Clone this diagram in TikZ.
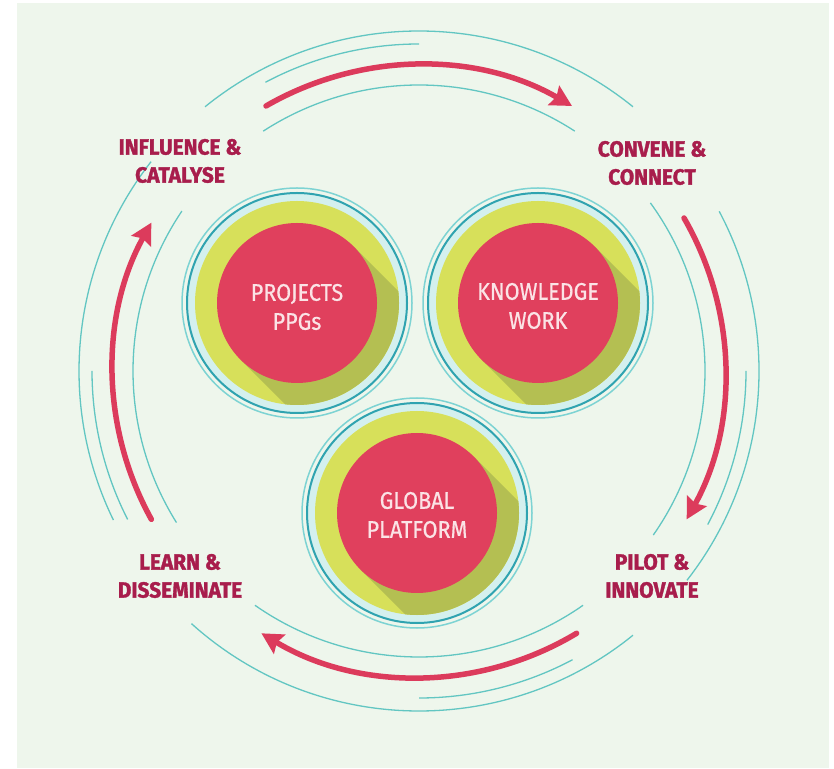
\documentclass[tikz,border=0pt]{standalone}
\usepackage{fontspec}
\setmainfont{Fira Sans}
\newfontfamily\labfont[FakeStretch=0.95, FakeBold=1.5]{Fira Sans}
\newfontfamily\circfont[FakeStretch=0.9, FakeBold=0.6]{Fira Sans}
\usetikzlibrary{arrows.meta}
\definecolor{bgc}{HTML}{EEF6EC}
\definecolor{ringlight}{HTML}{7DD3D3}
\definecolor{ringteal}{HTML}{2FA3B0}
\definecolor{bandc}{HTML}{D4F0EE}
\definecolor{yel}{HTML}{D7E05A}
\definecolor{shad}{HTML}{B4BF52}
\definecolor{reddisk}{HTML}{E0405D}
\definecolor{circtxt}{HTML}{FBE3E6}
\definecolor{labc}{HTML}{A81D4C}
\definecolor{arrred}{HTML}{DC3B5C}
\definecolor{arct}{HTML}{62C6C2}
\tikzset{
  redarrow/.style={draw=arrred, line width=5.5pt, line cap=round,
    -{Stealth[length=21pt,width=22pt,inset=3pt]}},
  tealarc/.style={draw=arct, line width=1.3pt},
  lab/.style={text=labc, align=center, font=\labfont\bfseries\fontsize{22}{28}\selectfont, inner sep=1pt},
  circtext/.style={text=circtxt, align=center, font=\circfont\fontsize{24}{29}\selectfont, inner sep=0pt},
}
\newcommand{\bigdisk}[2]{%
  \coordinate (#1) at #2;
  \draw[ringlight, line width=1.5pt] (#1) circle (115);
  \draw[ringteal, line width=2pt, fill=bandc] (#1) circle (110);
  \fill[yel] (#1) circle (102);
  \begin{scope}
    \clip (#1) circle (102);
    \fill[shad] (#1) ++(45:80) -- ++(-45:300) -- ++(225:160) -- ++(135:300) -- cycle;
  \end{scope}
  \fill[reddisk] (#1) circle (80);
}
\begin{document}
\begin{tikzpicture}[x=1pt,y=1pt]
\useasboundingbox (0,0) rectangle (834,768);
\fill[white] (0,0) rectangle (834,768);
\fill[bgc] (17,0) rectangle (829,765);
\coordinate (C) at (419,397);
% thin teal arcs
\foreach \s/\e/\r in {57/123/286, -35/36/286, -125/-55/286, 146/212/286,
                      90/118/327, -28/0/327, -90/-62/327, 180/207/327,
                      51/129/340, -38/28/340, -132/-51/340, 142/206/340}
  \draw[tealarc] (C) ++(\s:\r) arc[start angle=\s, end angle=\e, radius=\r];
% red cycle arrows
\draw[redarrow] (C) ++(120:306) arc[start angle=120, end angle=60, radius=306];
\draw[redarrow] (C) ++(30:306) arc[start angle=30, end angle=-29, radius=306];
\draw[redarrow] (C) ++(-59:306) arc[start angle=-59, end angle=-121, radius=306];
\draw[redarrow] (C) ++(209:306) arc[start angle=209, end angle=151, radius=306];
% three discs
\bigdisk{P}{(297,465)}
\bigdisk{K}{(538,465)}
\bigdisk{G}{(417,255)}
\node[circtext] (projects) at (297,461) {PROJECTS\\PPGs};
\node[circtext] (knowledge) at (538,462) {KNOWLEDGE\\WORK};
\node[circtext] (global) at (417,253) {GLOBAL\\PLATFORM};
% labels
\node[lab] (influence) at (180,607) {INFLUENCE \&\\CATALYSE};
\node[lab] (convene) at (652,605) {CONVENE \&\\CONNECT};
\node[lab] (pilot) at (652,192) {PILOT \&\\INNOVATE};
\node[lab] (learn) at (180,192) {LEARN \&\\DISSEMINATE};
\end{tikzpicture}
\end{document}
